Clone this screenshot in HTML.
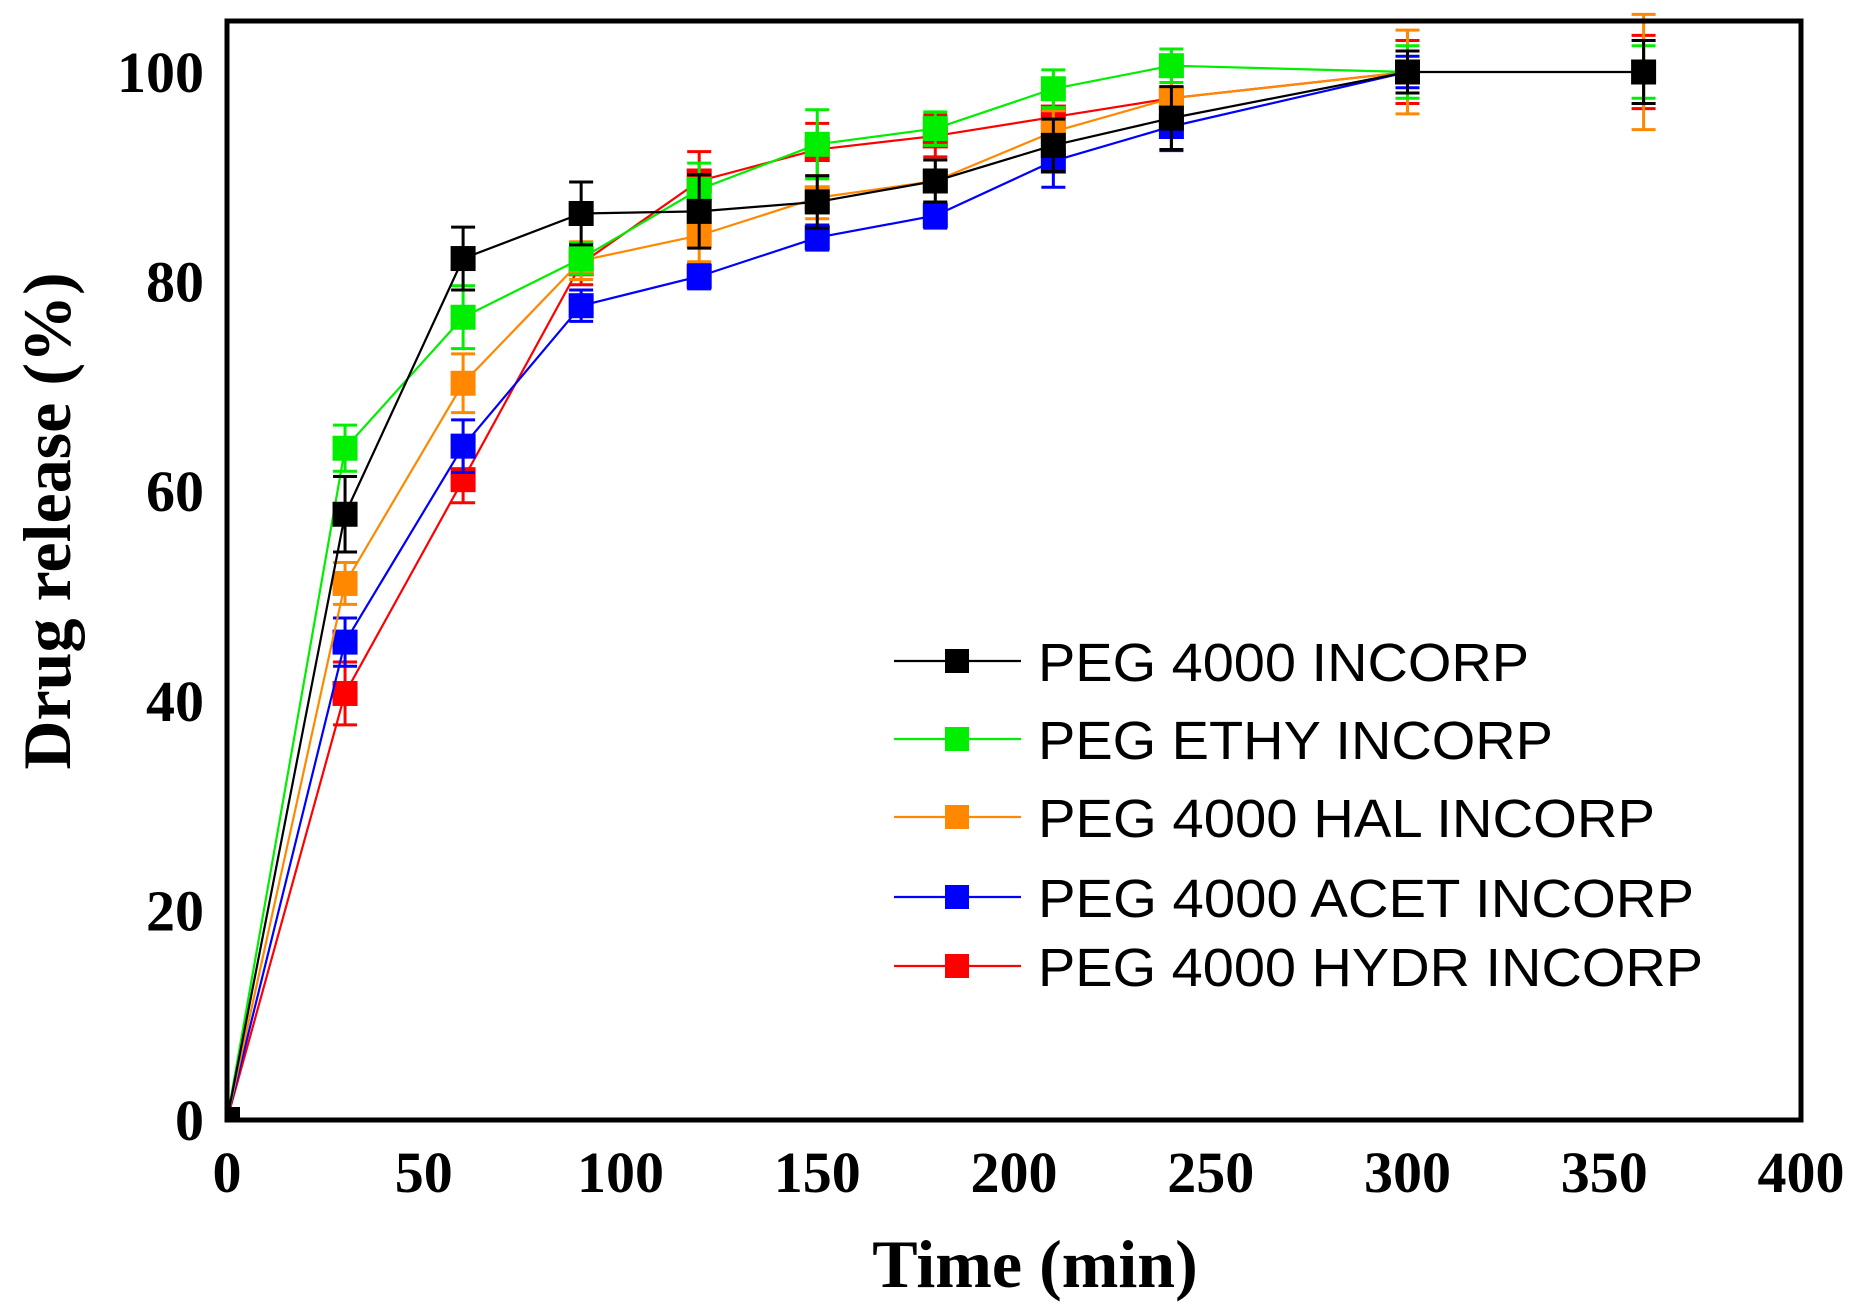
<!DOCTYPE html>
<html><head><meta charset="utf-8"><style>
html,body{margin:0;padding:0;background:#fff;}
svg{display:block;}
</style></head><body>
<svg id="s" width="1857" height="1308" xmlns="http://www.w3.org/2000/svg">
<rect x="0" y="0" width="1857" height="1308" fill="#fff"/>
<g id="plot"></g>
<rect x="227" y="21" width="1574" height="1099" fill="none" stroke="#000" stroke-width="5"/>
<g font-family="Liberation Serif, serif" font-weight="bold" font-size="58" text-anchor="middle" id="ticks"></g>
<text x="1035" y="1287" font-family="Liberation Serif, serif" font-weight="bold" font-size="68" text-anchor="middle">Time (min)</text>
<text transform="translate(70,521) rotate(-90)" font-family="Liberation Serif, serif" font-weight="bold" font-size="68" text-anchor="middle">Drug release (%)</text>
<g id="legend" font-family="Liberation Sans, sans-serif" font-size="54"></g>
</svg>
<script>
const NS="http://www.w3.org/2000/svg";
const X=v=>227+v*1574/400, Y=v=>1120-v*10.48;
function el(p,t,a){const e=document.createElementNS(NS,t);for(const k in a)e.setAttribute(k,a[k]);p.appendChild(e);return e;}
const ticks=document.getElementById('ticks');
for(let v=0;v<=400;v+=50){const t=el(ticks,'text',{x:X(v),y:1192});t.textContent=v;}
for(let v=0;v<=100;v+=20){const t=el(ticks,'text',{x:204,y:Y(v)+20,'text-anchor':'end'});t.textContent=v;}
const xs=[0,30,60,90,120,150,180,210,240,300,360];
const S=[
 {c:'#000000',n:'PEG 4000 INCORP',w:491,y:[0,57.8,82.2,86.5,86.7,87.6,89.6,93,95.6,100,100],e:[0,3.6,3,3,3.5,2.5,2,2.5,3,2,3]},
 {c:'#00ee00',n:'PEG ETHY INCORP',w:515,y:[0,64.1,76.6,82.2,88.8,93.1,94.6,98.4,100.6,100,null],e:[0,2.2,3,1.5,2.5,3.3,1.6,1.8,1.6,2.5,2.5]},
 {c:'#ff8800',n:'PEG 4000 HAL INCORP',w:617,y:[0,51.2,70.3,82,84.4,88,89.6,94.3,97.5,100,null],e:[0,2,2.8,1.8,2.5,2,2,2,2.5,4,5.5]},
 {c:'#0000ff',n:'PEG 4000 ACET INCORP',w:656,y:[0,45.6,64.3,77.7,80.5,84.2,86.3,91.5,94.8,100,null],e:[0,2.3,2.5,1.5,1.2,1.2,1.2,2.5,2.3,1.5,null]},
 {c:'#ff0000',n:'PEG 4000 HYDR INCORP',w:665,y:[0,40.7,61.1,81.7,89.6,92.6,93.9,95.7,97.5,100,null],e:[0,3,2.2,2,2.8,2.5,2,2,2.5,3,3.5]}
];
const plot=document.getElementById('plot');
[4,3,2,1,0].forEach(i=>{
 const s=S[i];let pts=[];
 xs.forEach((x,j)=>{if(s.y[j]!=null)pts.push(X(x)+','+Y(s.y[j]));});
 el(plot,'polyline',{points:pts.join(' '),fill:'none',stroke:s.c,'stroke-width':2.2});
 xs.forEach((x,j)=>{
  let yv=s.y[j]; const ev=s.e[j];
  if(yv==null){ if(ev!=null&&x==360) yv=100; else return; }
  if(ev){const cx=X(x),y1=Y(yv+ev),y2=Y(yv-ev);
   el(plot,'line',{x1:cx,y1:y1,x2:cx,y2:y2,stroke:s.c,'stroke-width':3});
   el(plot,'line',{x1:cx-12,y1:y1,x2:cx+12,y2:y1,stroke:s.c,'stroke-width':3});
   el(plot,'line',{x1:cx-12,y1:y2,x2:cx+12,y2:y2,stroke:s.c,'stroke-width':3});}
  if(s.y[j]!=null && x>0) el(plot,'rect',{x:X(x)-12.5,y:Y(yv)-12.5,width:25,height:25,fill:s.c});
 });
});
el(plot,'rect',{x:229,y:1107,width:11,height:11,fill:'#000'});
const lg=document.getElementById('legend');
const ly=[661,739,817,897,966];
S.forEach((s,i)=>{
 el(lg,'line',{x1:894,y1:ly[i],x2:1021,y2:ly[i],stroke:s.c,'stroke-width':2.2});
 el(lg,'rect',{x:957-12,y:ly[i]-12,width:24,height:24,fill:s.c});
 const t=el(lg,'text',{x:1038,y:ly[i]+20,textLength:s.w,lengthAdjust:'spacingAndGlyphs'});t.textContent=s.n;
});
</script>
</body></html>
